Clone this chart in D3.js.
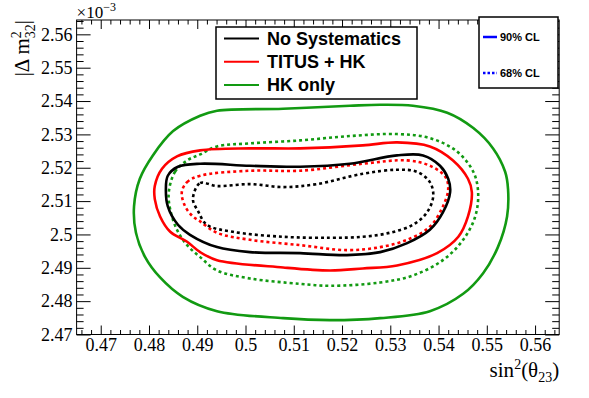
<!DOCTYPE html>
<html>
<head>
<meta charset="utf-8">
<script src="https://cdn.jsdelivr.net/npm/d3@7"></script>
<style>
  body { margin: 0; background: #fff; }
  svg { display: block; }
</style>
</head>
<body>
<svg id="chart"></svg>
<script>
// contour points: [sin^2(theta23), |dm^2_32| in 1e-3 eV^2]
const noSys90 = [
  [0.4835, 2.5136], [0.4839, 2.5176], [0.4860, 2.5203], [0.4906, 2.5212], [0.5009, 2.5206],
  [0.5113, 2.5203], [0.5216, 2.5212], [0.5314, 2.5237], [0.5368, 2.5237], [0.5403, 2.5206],
  [0.5420, 2.5167], [0.5424, 2.5127], [0.5409, 2.5066], [0.5382, 2.5014], [0.5335, 2.4974],
  [0.5279, 2.4947], [0.5210, 2.4938], [0.5113, 2.4944], [0.5009, 2.4947], [0.4941, 2.4962],
  [0.4885, 2.4999], [0.4860, 2.5029], [0.4839, 2.5084]
];
const noSys68 = [
  [0.4891, 2.5106], [0.4906, 2.5154], [0.4941, 2.5145], [0.5009, 2.5151], [0.5078, 2.5142],
  [0.5148, 2.5151], [0.5243, 2.5182], [0.5314, 2.5194], [0.5355, 2.5188], [0.5382, 2.5157],
  [0.5389, 2.5115], [0.5376, 2.5066], [0.5347, 2.5029], [0.5299, 2.5005], [0.5243, 2.4993],
  [0.5175, 2.4990], [0.5078, 2.4993], [0.4974, 2.5008], [0.4920, 2.5029], [0.4902, 2.5069]
];
const titus90 = [
  [0.4812, 2.5106], [0.4812, 2.5145], [0.4827, 2.5197], [0.4858, 2.5234], [0.4906, 2.5252],
  [0.5009, 2.5258], [0.5113, 2.5258], [0.5243, 2.5267], [0.5314, 2.5276], [0.5382, 2.5264],
  [0.5430, 2.5222], [0.5461, 2.5167], [0.5469, 2.5127], [0.5461, 2.5054], [0.5441, 2.4993],
  [0.5397, 2.4944], [0.5314, 2.4907], [0.5243, 2.4898], [0.5175, 2.4892], [0.5078, 2.4901],
  [0.4941, 2.4923], [0.4906, 2.4947], [0.4879, 2.4978], [0.4844, 2.5008], [0.4823, 2.5054]
];
const titus68 = [
  [0.4868, 2.5127], [0.4879, 2.5157], [0.4906, 2.5176], [0.5009, 2.5191], [0.5113, 2.5191],
  [0.5243, 2.5212], [0.5335, 2.5222], [0.5382, 2.5206], [0.5414, 2.5173], [0.5420, 2.5136],
  [0.5409, 2.5084], [0.5382, 2.5023], [0.5335, 2.4984], [0.5279, 2.4962], [0.5210, 2.4953],
  [0.5113, 2.4968], [0.5009, 2.4984], [0.4941, 2.5005], [0.4906, 2.5039], [0.4891, 2.5054],
  [0.4875, 2.5084]
];
const hk90 = [
  [0.4769, 2.5084], [0.4781, 2.5167], [0.4808, 2.5237], [0.4850, 2.5310], [0.4906, 2.5356],
  [0.4941, 2.5371], [0.5078, 2.5377], [0.5216, 2.5386], [0.5279, 2.5389], [0.5347, 2.5386],
  [0.5418, 2.5365], [0.5472, 2.5319], [0.5513, 2.5258], [0.5538, 2.5188], [0.5544, 2.5136],
  [0.5542, 2.5054], [0.5523, 2.4962], [0.5492, 2.4883], [0.5451, 2.4822], [0.5382, 2.4770],
  [0.5279, 2.4749], [0.5175, 2.4743], [0.5078, 2.4749], [0.4941, 2.4770], [0.4870, 2.4813],
  [0.4823, 2.4871], [0.4792, 2.4932], [0.4773, 2.5005]
];
const hk68 = [
  [0.4841, 2.5127], [0.4854, 2.5188], [0.4879, 2.5222], [0.4906, 2.5240], [0.4941, 2.5264],
  [0.5009, 2.5273], [0.5113, 2.5282], [0.5216, 2.5295], [0.5314, 2.5301], [0.5382, 2.5289],
  [0.5438, 2.5249], [0.5472, 2.5188], [0.5482, 2.5127], [0.5476, 2.5054], [0.5451, 2.4984],
  [0.5409, 2.4923], [0.5347, 2.4877], [0.5279, 2.4856], [0.5175, 2.4846], [0.5113, 2.4852],
  [0.5009, 2.4868], [0.4941, 2.4892], [0.4906, 2.4932], [0.4879, 2.4968], [0.4858, 2.5014],
  [0.4844, 2.5075]
];

const xTicks = [0.47, 0.48, 0.49, 0.50, 0.51, 0.52, 0.53, 0.54, 0.55, 0.56];
const yTicks = [2.47, 2.48, 2.49, 2.50, 2.51, 2.52, 2.53, 2.54, 2.55, 2.56];
const legendNames = ["No Systematics", "TITUS + HK", "HK only"];
const legendColors = ["#000000", "#ff0000", "#129a12"];
const clNames = ["90% CL", "68% CL"];

const width = 589, height = 398;
const frame = { left: 76.6, right: 559.2, top: 20, bottom: 334.5 };

const svg = d3.select("#chart")
  .attr("width", width)
  .attr("height", height)
  .style("font-family", "'Liberation Serif', 'Times New Roman', serif");

svg.append("rect").attr("width", width).attr("height", height).attr("fill", "#fff");

const x = d3.scaleLinear().domain([0.465, 0.565]).range([frame.left, frame.right]);
const y = d3.scaleLinear().domain([2.47, 2.5643]).range([frame.bottom, frame.top]);

const xMinor = d3.range(0.466, 0.5649, 0.002).filter(v => Math.abs(v * 100 - Math.round(v * 100)) > 1e-6);
const yMinor = d3.range(2.472, 2.5642, 0.002).filter(v => Math.abs(v * 100 - Math.round(v * 100)) > 1e-6);
const fmt = v => String(+v.toFixed(2));

// ---- axes (ROOT style ticks pointing inwards on all four sides)
function styleAxis(g) {
  g.select(".domain").remove();
  g.selectAll("line").attr("stroke", "#000").attr("stroke-width", 1);
  g.selectAll("text").attr("font-size", 18).attr("fill", "#000")
    .attr("font-family", "'Liberation Serif', serif");
}

svg.append("g").attr("transform", `translate(0,${frame.bottom})`)
  .call(d3.axisBottom(x).tickValues(xTicks).tickSize(-9).tickPadding(4).tickFormat(fmt)).call(styleAxis);
svg.append("g").attr("transform", `translate(0,${frame.bottom})`)
  .call(d3.axisBottom(x).tickValues(xMinor).tickSize(-4.5).tickFormat("")).call(styleAxis);
svg.append("g").attr("transform", `translate(0,${frame.top})`)
  .call(d3.axisTop(x).tickValues(xTicks).tickSize(-9).tickFormat("")).call(styleAxis);
svg.append("g").attr("transform", `translate(0,${frame.top})`)
  .call(d3.axisTop(x).tickValues(xMinor).tickSize(-4.5).tickFormat("")).call(styleAxis);

svg.append("g").attr("transform", `translate(${frame.left},0)`)
  .call(d3.axisLeft(y).tickValues(yTicks).tickSize(-14).tickPadding(4).tickFormat(fmt)).call(styleAxis);
svg.append("g").attr("transform", `translate(${frame.left},0)`)
  .call(d3.axisLeft(y).tickValues(yMinor).tickSize(-7).tickFormat("")).call(styleAxis);
svg.append("g").attr("transform", `translate(${frame.right},0)`)
  .call(d3.axisRight(y).tickValues(yTicks).tickSize(-14).tickFormat("")).call(styleAxis);
svg.append("g").attr("transform", `translate(${frame.right},0)`)
  .call(d3.axisRight(y).tickValues(yMinor).tickSize(-7).tickFormat("")).call(styleAxis);

svg.append("rect")
  .attr("x", frame.left).attr("y", frame.top)
  .attr("width", frame.right - frame.left).attr("height", frame.bottom - frame.top)
  .attr("fill", "none").attr("stroke", "#000").attr("stroke-width", 1);

// ---- contours
const line = d3.line().x(d => x(d[0])).y(d => y(d[1])).curve(d3.curveCatmullRomClosed.alpha(0.5));

const contours = [
  { pts: hk90, color: legendColors[2], dash: null },
  { pts: hk68, color: legendColors[2], dash: "3,3" },
  { pts: titus90, color: legendColors[1], dash: null },
  { pts: titus68, color: legendColors[1], dash: "3,3" },
  { pts: noSys90, color: legendColors[0], dash: null },
  { pts: noSys68, color: legendColors[0], dash: "3,3" }
];

svg.append("g").selectAll("path")
  .data(contours)
  .join("path")
  .attr("d", d => line(d.pts))
  .attr("fill", "none")
  .attr("stroke", d => d.color)
  .attr("stroke-width", 2.6)
  .attr("stroke-dasharray", d => d.dash);

// ---- axis titles
const xt = svg.append("text")
  .attr("x", frame.right).attr("y", 377)
  .attr("text-anchor", "end").attr("font-size", 21);
xt.append("tspan").text("sin");
xt.append("tspan").attr("dy", -8).attr("font-size", 14).text("2");
xt.append("tspan").attr("dy", 8).text("(θ");
xt.append("tspan").attr("dy", 5).attr("font-size", 14).text("23");
xt.append("tspan").attr("dy", -5).text(")");

const yt = svg.append("text")
  .attr("transform", `translate(29,${frame.top}) rotate(-90)`)
  .attr("text-anchor", "end").attr("font-size", 21);
yt.append("tspan").text("|Δ m");
yt.append("tspan").attr("dy", -8).attr("font-size", 14).text("2");
yt.append("tspan").attr("dx", -7).attr("dy", 14).attr("font-size", 14).text("32");
yt.append("tspan").attr("dy", -6).text("|");

const ex = svg.append("text").attr("x", frame.left).attr("y", 18).attr("font-size", 17);
ex.append("tspan").text("×10");
ex.append("tspan").attr("dy", -7).attr("font-size", 12).text("−3");

// ---- legend (samples)
const leg = svg.append("g").attr("font-family", "'Liberation Sans', Arial, sans-serif");
leg.append("rect")
  .attr("x", 216).attr("y", 27).attr("width", 201).attr("height", 72)
  .attr("fill", "#fff").attr("stroke", "#000").attr("stroke-width", 1.5);
const rows = leg.selectAll("g.row")
  .data(legendNames)
  .join("g")
  .attr("transform", (d, i) => `translate(0,${38.5 + i * 23.2})`);
rows.append("line")
  .attr("x1", 224).attr("x2", 259)
  .attr("stroke", (d, i) => legendColors[i]).attr("stroke-width", 2);
rows.append("text")
  .attr("x", 267).attr("y", 6.5)
  .attr("font-size", 18).attr("font-weight", "bold")
  .text(d => d);

// ---- legend (confidence levels)
const cl = svg.append("g").attr("font-family", "'Liberation Sans', Arial, sans-serif");
cl.append("rect")
  .attr("x", 479).attr("y", 17).attr("width", 79).attr("height", 71)
  .attr("fill", "#fff").attr("stroke", "#000").attr("stroke-width", 1.5);
const clRows = cl.selectAll("g.row")
  .data(clNames)
  .join("g")
  .attr("transform", (d, i) => `translate(0,${37 + i * 36})`);
clRows.append("line")
  .attr("x1", 483).attr("x2", 497)
  .attr("stroke", "#0000ff").attr("stroke-width", 2.5)
  .attr("stroke-dasharray", (d, i) => i ? "2.5,2" : null);
clRows.append("text")
  .attr("x", 500).attr("y", 4)
  .attr("font-size", 11).attr("font-weight", "bold")
  .text(d => d);
</script>
</body>
</html>
